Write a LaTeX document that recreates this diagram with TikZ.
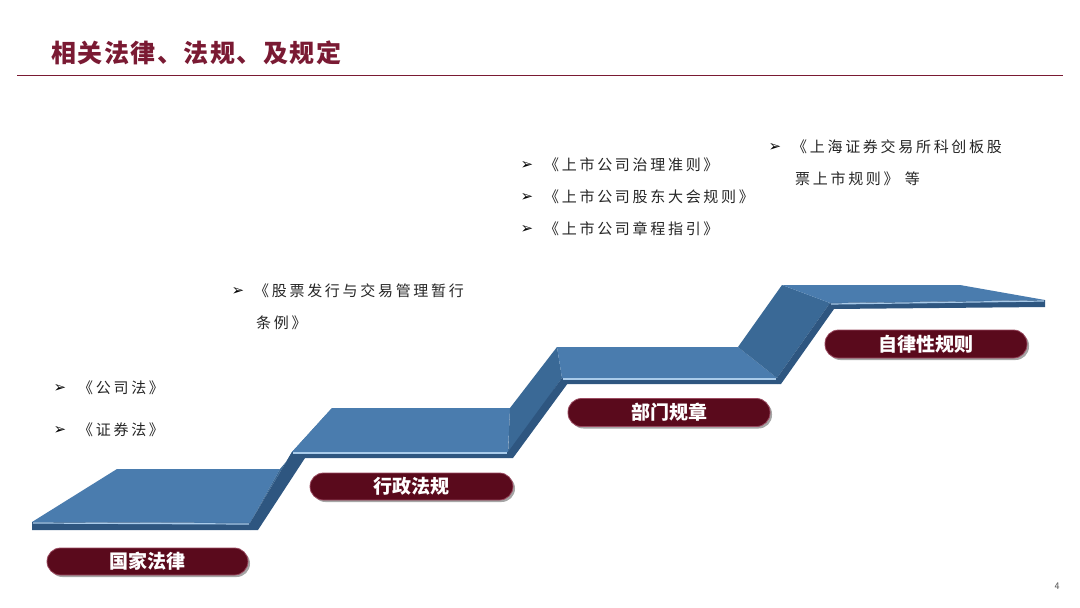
\documentclass[tikz,border=0pt]{standalone}
\usepackage{fontspec}
\newfontfamily\cjk{Noto Sans CJK SC}
\newfontfamily\cjkti[LetterSpace=6]{Noto Sans CJK SC}
\newfontfamily\cjksp[LetterSpace=18]{Noto Sans CJK SC}
\newfontfamily\dejavu{DejaVu Sans}
\usetikzlibrary{shadows}
\definecolor{titlered}{HTML}{7A1A33}
\definecolor{pillred}{HTML}{5A0A1C}
\definecolor{pillrim}{HTML}{9A4A60}
\definecolor{topblue}{HTML}{4A7CAE}
\definecolor{riserblue}{HTML}{3A6996}
\definecolor{edgedark}{HTML}{2E5680}
\definecolor{edgelight}{HTML}{A9CBEA}
\definecolor{bodytext}{HTML}{262626}
\tikzset{
  topface/.style={fill=topblue},
  riserface/.style={fill=riserblue},
  frontedge/.style={fill=edgedark},
  hilite/.style={draw=edgelight, line width=1.2pt},
  pill/.style={fill=pillred, draw=pillrim, line width=0.8pt, rounded corners=13.5pt,
    text=white, font=\cjk\bfseries\fontsize{19}{19}\selectfont, inner sep=0pt,
    drop shadow={shadow xshift=2pt, shadow yshift=-2pt, opacity=0.35, fill=black}},
  bullet/.style={font=\dejavu\fontsize{15}{15}\selectfont, text=black, inner sep=0pt},
  item/.style={anchor=west, font=\cjksp\fontsize{15}{15}\selectfont, text=bodytext, inner sep=0pt}
}
\begin{document}
\begin{tikzpicture}[x=1pt,y=-1pt]
\useasboundingbox (0,0) rectangle (1080,608);
\fill[white] (0,0) rectangle (1080,608);
% title
\node[anchor=west, inner sep=0pt, text=titlered, font=\cjkti\bfseries\fontsize{25}{25}\selectfont] (title) at (51,53) {相关法律、法规、及规定};
\coordinate (ruleL) at (17,75);
\coordinate (ruleR) at (1063,75);
\draw[titlered, line width=0.9pt] (ruleL) -- (ruleR);
% staircase
% step 1
\fill[topface] (117,469) -- (280,469) -- (250,523) -- (32,522) -- cycle;
\fill[frontedge] (32,522) -- (250,523) -- (250,530) -- (32,530) -- cycle;
\draw[hilite] (33,523) -- (249,524);
% riser 1
\fill[riserface] (280,469) -- (332,408) -- (292,452) -- (250,523) -- cycle;
\fill[edgedark] (250,523) -- (292,452) -- (305,458) -- (258,530) -- (250,530) -- cycle;
% step 2
\fill[topface] (332,408) -- (510,408) -- (508,452) -- (292,452) -- cycle;
\fill[frontedge] (292,452) -- (508,452) -- (508,458) -- (298,458) -- cycle;
\draw[hilite] (293,453) -- (507,453);
% riser 2
\fill[riserface] (510,408) -- (557,347) -- (562,378) -- (508,455) -- cycle;
\fill[edgedark] (508,452) -- (562,378) -- (568,383) -- (513,458) -- (508,458) -- cycle;
% step 3
\fill[topface] (557,347) -- (738,347) -- (777,378) -- (562,378) -- cycle;
\fill[frontedge] (562,378) -- (777,378) -- (777,384) -- (565,384) -- cycle;
\draw[hilite] (563,379) -- (776,379);
% riser 3
\fill[riserface] (738,347) -- (782,285) -- (830,303) -- (777,378) -- cycle;
\fill[edgedark] (777,378) -- (830,303) -- (834,309) -- (781,384) -- (777,384) -- cycle;
% step 4
\fill[topface] (782,285) -- (960,285) -- (1045,300) -- (830,303) -- cycle;
\fill[frontedge] (830,303) -- (1045,300) -- (1045,307) -- (833,309) -- cycle;
\draw[hilite] (831,304) -- (1044,301);
% pills
\node[pill, minimum width=201pt, minimum height=27pt] (p1) at (147.5,561.5) {国家法律};
\node[pill, minimum width=203pt, minimum height=27pt] (p2) at (411.5,486.5) {行政法规};
\node[pill, minimum width=202pt, minimum height=28pt] (p3) at (669,412.5) {部门规章};
\node[pill, minimum width=202pt, minimum height=28pt] (p4) at (926,344) {自律性规则};
% bullets
\node[bullet] (b1) at (60,388) {➢};
\node[item] (t1) at (78,388) {《公司法》};
\node[bullet] (b2) at (60,430) {➢};
\node[item] (t2) at (78,430) {《证券法》};
\node[bullet] (b3) at (238,291) {➢};
\node[item] (t3) at (254,291) {《股票发行与交易管理暂行};
\node[item] (t3b) at (256,323) {条例》};
\node[bullet] (b4) at (527,165) {➢};
\node[item] (t4) at (544,165) {《上市公司治理准则》};
\node[bullet] (b5) at (527,197) {➢};
\node[item] (t5) at (544,197) {《上市公司股东大会规则》};
\node[bullet] (b6) at (527,229) {➢};
\node[item] (t6) at (544,229) {《上市公司章程指引》};
\node[bullet] (b7) at (775,147) {➢};
\node[item] (t7) at (792,147) {《上海证券交易所科创板股};
\node[item] (t7b) at (795,179) {票上市规则》 等};
% page number
\node[inner sep=0pt, font=\sffamily\fontsize{10}{10}\selectfont, text=black!70] (pg) at (1057,586) {4};
\end{tikzpicture}
\end{document}
